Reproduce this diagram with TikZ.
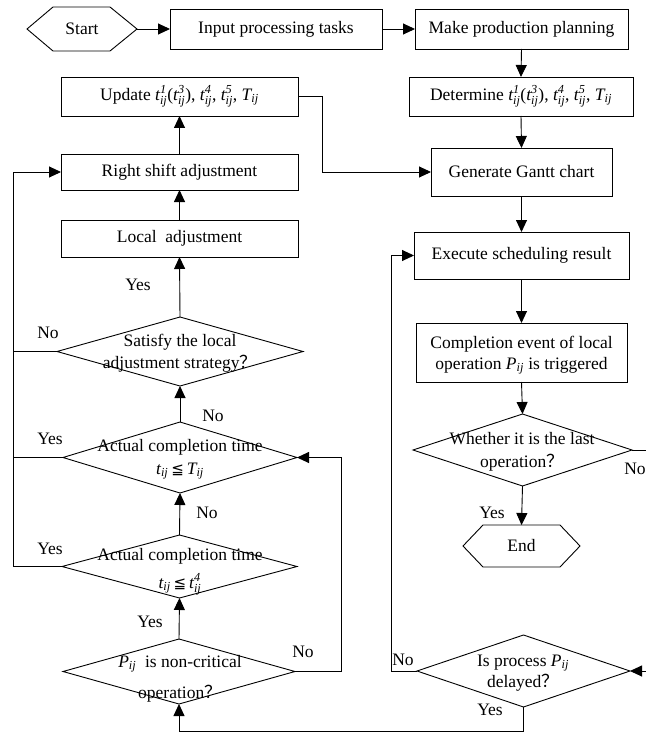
\documentclass[tikz,border=0pt]{standalone}
\usepackage{fontspec}
\usepackage{amsmath}
\setmainfont{Liberation Serif}
\newfontfamily\symf{DejaVu Sans}
\newfontfamily\cjk{Noto Sans CJK SC}
\usetikzlibrary{shapes.geometric,arrows.meta}
\newcommand\tv[2]{$\textit{t}^{\textit{#1}}_{\textit{#2}}$}
\newcommand\Tv{$\textit{T}_{\textit{ij}}$}
\newcommand\Pv{$\textit{P}_{\textit{ij}}$}
\newcommand\myleq{{\symf\fontsize{15}{15}\selectfont ≦}}
\newcommand\myq{{\cjk ？}}
\tikzset{
  ln/.style={line width=0.9pt, draw=black},
  arr/.style={ln, -{Triangle[length=12pt,width=11pt]}},
  txt/.style={font=\fontsize{17.5}{21}\selectfont, inner sep=0pt, outer sep=0pt},
  box/.style={ln, rectangle, inner sep=0pt, outer sep=0pt, font=\fontsize{17.5}{21}\selectfont},
  dia/.style={ln, diamond, inner sep=0pt, outer sep=0pt},
  hexn/.style={rectangle, inner sep=0pt, outer sep=0pt, font=\fontsize{17.5}{21}\selectfont},
}
\begin{document}
\begin{tikzpicture}[x=1pt,y=-1pt]
\useasboundingbox (0,0) rectangle (645,733);
% top row
\node[hexn, minimum width=110pt, minimum height=44pt] (st) at (82,29) {Start};
\draw[ln] (st.west) -- ([xshift=26pt]st.north west) -- ([xshift=-27pt]st.north east) -- (st.east) -- ([xshift=-27pt]st.south east) -- ([xshift=26pt]st.south west) -- cycle;
\node[box, minimum width=212pt, minimum height=40pt] (inp) at (276,29) {Input processing tasks};
\node[box, minimum width=213pt, minimum height=40pt] (mk) at (521.5,29) {Make production planning};
\node[box, minimum width=224pt, minimum height=39pt] (det) at (521,96.5) {Determine \tv{1}{ij}(\tv{3}{ij}), \tv{4}{ij}, \tv{5}{ij}, \Tv};
% left column
\node[box, minimum width=237pt, minimum height=39pt] (upd) at (179.5,96.5) {Update \tv{1}{ij}(\tv{3}{ij}), \tv{4}{ij}, \tv{5}{ij}, \Tv};
\node[box, minimum width=237pt, minimum height=36pt] (rs) at (179.5,172) {Right shift adjustment};
\node[box, minimum width=237pt, minimum height=37pt] (loc) at (179.5,238.5) {Local\ \ adjustment};
\node[dia, minimum width=246pt, minimum height=69pt] (d1) at (180,351.5) {};
\node[txt, anchor=base] (d1a) at (180,346) {Satisfy the local};
\node[txt, anchor=base] (d1b) at (180,368) {adjustment strategy\myq};
\node[dia, minimum width=234pt, minimum height=71pt] (d2) at (180,457.5) {};
\node[txt, anchor=base] (d2a) at (180,451) {Actual completion time};
\node[txt, anchor=base] (d2b) at (180,474) {$\textit{t}_{\textit{ij}}$\,\myleq\,\Tv};
\node[dia, minimum width=235pt, minimum height=63pt] (d3) at (179.5,566.5) {};
\node[txt, anchor=base] (d3a) at (180,560) {Actual completion time};
\node[txt, anchor=base] (d3b) at (180,588) {$\textit{t}_{\textit{ij}}$\,\myleq\,\tv{4}{ij}};
\node[dia, minimum width=232pt, minimum height=65pt] (d4) at (179,671.5) {};
\node[txt, anchor=base] (d4a) at (180,667) {\Pv\ \ is non-critical};
\node[txt, anchor=base] (d4b) at (180,698) {operation\myq};
% right column
\node[box, minimum width=181pt, minimum height=48pt] (gen) at (521.5,172) {Generate Gantt chart};
\node[box, minimum width=215pt, minimum height=47pt] (exe) at (521.5,255.5) {Execute scheduling result};
\node[box, minimum width=211pt, minimum height=59pt] (cmp) at (521.5,352.5) {};
\node[txt, anchor=base] (cmpa) at (521.5,348) {Completion event of local};
\node[txt, anchor=base] (cmpb) at (521.5,369) {operation \Pv\ is triggered};
\node[dia, minimum width=219pt, minimum height=72pt] (d5) at (522.5,450) {};
\node[txt, anchor=base] (d5a) at (522,444) {Whether it is the last};
\node[txt, anchor=base] (d5b) at (522,467) {operation\myq};
\node[hexn, minimum width=117pt, minimum height=42pt] (end) at (521.5,546) {End};
\draw[ln] (end.west) -- ([xshift=20pt]end.north west) -- ([xshift=-20pt]end.north east) -- (end.east) -- ([xshift=-20pt]end.south east) -- ([xshift=20pt]end.south west) -- cycle;
\node[dia, minimum width=213pt, minimum height=72pt] (del) at (523.5,671) {};
\node[txt, anchor=base] (dela) at (523,666) {Is process \Pv};
\node[txt, anchor=base] (delb) at (523,687) {delayed\myq};
% helper coordinates
\coordinate (lx) at (13,0);
\coordinate (c1) at (322,0);
\coordinate (c2) at (341,0);
\coordinate (c3) at (391,0);
\coordinate (c4) at (655,0);
\coordinate (c5) at (0,731.5);
% connectors
\draw[arr] (st.east) -- (inp.west);
\draw[arr] (inp.east) -- (mk.west);
\draw[arr] (mk.south) -- (det.north);
\draw[arr] (det.south) -- (gen.north);
\draw[arr] (upd.east) -- (upd.east -| c1) |- (gen.west);
\draw[arr] (rs.north) -- (upd.south);
\draw[arr] (loc.north) -- (rs.south);
\draw[arr] (d1.north) -- (loc.south);
\draw[arr] (d3.west) -- (d3.west -| lx) |- (rs.west);
\draw[ln] (d1.west) -- (d1.west -| lx);
\draw[ln] (d2.west) -- (d2.west -| lx);
\draw[arr] (d2.north) -- (d1.south);
\draw[arr] (d3.north) -- (d2.south);
\draw[arr] (d4.north) -- (d3.south);
\draw[arr] (d4.east) -- (d4.east -| c2) |- (d2.east);
\draw[arr] (gen.south) -- (exe.north);
\draw[arr] (exe.south) -- (cmp.north);
\draw[arr] (cmp.south) -- (d5.north);
\draw[arr] (d5.south) -- (end.north);
\draw[arr] (d5.east) -- (d5.east -| c4) |- (del.east);
\draw[arr] (del.west) -- (del.west -| c3) |- (exe.west);
\draw[arr] (del.south) -- (del.south |- c5) -| (d4.south);
% labels
\node[txt] (l1) at (138,285) {Yes};
\node[txt] (l2) at (48,333) {No};
\node[txt] (l3) at (213,416) {No};
\node[txt] (l4) at (50,439) {Yes};
\node[txt] (l5) at (207,513) {No};
\node[txt] (l6) at (50,549) {Yes};
\node[txt] (l7) at (150,622) {Yes};
\node[txt] (l8) at (303,652) {No};
\node[txt] (l9) at (492,513) {Yes};
\node[txt] (l10) at (635,469) {No};
\node[txt] (l11) at (403,660) {No};
\node[txt] (l12) at (490,710) {Yes};
\end{tikzpicture}
\end{document}
